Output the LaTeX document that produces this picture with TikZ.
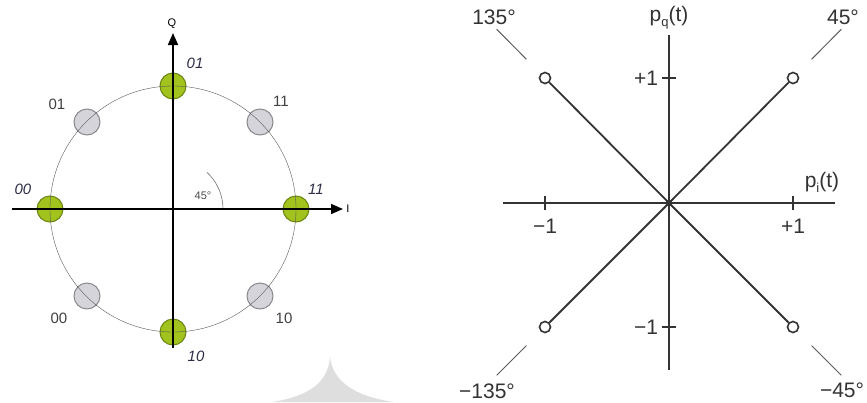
\documentclass[tikz,border=0pt]{standalone}
\usepackage{fontspec}
\setmainfont{Liberation Sans}
\usepackage{tikz}
\usetikzlibrary{
  arrows.meta,
  calc,
  positioning
}

\definecolor{qpskgreen}{HTML}{A2C21E}
\definecolor{qpskgreenline}{HTML}{6A8512}
\definecolor{qpskgray}{HTML}{D4D4DA}
\definecolor{qpskgrayline}{HTML}{8A8A8E}
\definecolor{bitnavy}{HTML}{2E2E48}
\definecolor{plotgray}{HTML}{333333}

\newcommand{\phasedraw}[1]{%
  \draw[vec] (org) -- (#1);
  \draw[leader] ($(org)!1.15!(#1)$) -- ($(org)!1.39!(#1)$);
}

\begin{document}
\begin{tikzpicture}[x=1pt, y=-1pt]

\tikzset{
  greendot/.style={
    circle,
    draw=qpskgreenline,
    fill=qpskgreen,
    line width=1pt,
    minimum size=26pt,
    inner sep=0pt
  },
  graydot/.style={
    circle,
    draw=qpskgrayline,
    fill=qpskgray,
    line width=1pt,
    minimum size=26pt,
    inner sep=0pt
  },
  bitlabel/.style={
    font=\fontsize{15}{15}\selectfont,
    text=black!75
  },
  bitlabelit/.style={
    font=\fontsize{15}{15}\selectfont\itshape,
    text=bitnavy
  },
  phasept/.style={
    circle,
    draw=plotgray,
    fill=white,
    line width=1.6pt,
    minimum size=11pt,
    inner sep=0pt
  },
  plotlabel/.style={
    font=\fontsize{21}{21}\selectfont,
    text=plotgray
  },
  vec/.style={draw=plotgray, line width=1.8pt},
  leader/.style={draw=plotgray!80, line width=1pt},
  >={Triangle[length=12pt, width=10pt]},
  line width=1pt
}

\useasboundingbox (0,0) rectangle (867,402);
\fill[white] (0,0) rectangle (867,402);

% faint background shape
\fill[black!13] (272,402) .. controls (310,396) and (328,382) .. (330,357)
  .. controls (333,382) and (355,396) .. (393,402) -- cycle;

% NODES (CONSTELLATION) ------------------------------------------

\coordinate (o) at (173,209);

% Nodes gray points
\node[graydot] (g01) at (87,122)  {};
\node[graydot] (g11) at (260,122) {};
\node[graydot] (g00) at (87,296)  {};
\node[graydot] (g10) at (260,296) {};

% Nodes green points
\node[greendot] (q01) at (173,86)  {};
\node[greendot] (q11) at (296,209) {};
\node[greendot] (q10) at (173,332) {};
\node[greendot] (q00) at (50,209)  {};

% Axis ends
\coordinate (qlow)  at (173,348);
\coordinate (qtop)  at (173,33);
\coordinate (ileft) at (12,209);
\coordinate (iright) at (343,209);

% Labels
\node[bitlabelit] (t01) at (195,63)  {01};
\node[bitlabelit] (t11) at (316,189) {11};
\node[bitlabelit] (t00) at (23,189)  {00};
\node[bitlabelit] (t10) at (196,356) {10};
\node[bitlabel] (s01) at (57,104)  {01};
\node[bitlabel] (s11) at (281,101) {11};
\node[bitlabel] (s00) at (59,318)  {00};
\node[bitlabel] (s10) at (284,318) {10};
\node[font=\fontsize{11}{11}\selectfont] (qlab) at (172,24) {Q};
\node[font=\fontsize{11}{11}\selectfont] (ilab) at (348,209) {I};
\node[font=\fontsize{11}{11}\selectfont, text=black!70] (ang) at (203,196) {45°};

% DRAWS (CONSTELLATION) ------------------------------------------

\draw[black!65] (o) circle[radius=123];
\draw[black!55, line width=0.6pt] ($(o)+(50,0)$) arc[start angle=0, end angle=-47, radius=50];
\draw[->, line width=1.6pt] (qlow) -- (qtop);
\draw[->, line width=1.6pt] (ileft) -- (iright);

% NODES (PHASOR) -------------------------------------------------

\coordinate (org) at (669,203);
\node[phasept] (p45)   at (793,78)  {};
\node[phasept] (p135)  at (545,78)  {};
\node[phasept] (pm135) at (545,327) {};
\node[phasept] (pm45)  at (793,327) {};

\coordinate (hleft)  at (503,203);
\coordinate (hright) at (835,203);
\coordinate (vtop)   at (669,35);
\coordinate (vlow)   at (669,370);

\node[plotlabel, anchor=east] (qp1) at (662,78)  {+1};
\node[plotlabel, anchor=east] (qm1) at (662,327) {−1};
\node[plotlabel] (im1) at (545,226) {−1};
\node[plotlabel] (ip1) at (793,226) {+1};
\node[plotlabel] (pq) at (669,18)
  {p\raisebox{-5pt}{\fontsize{13}{13}\selectfont q}(t)};
\node[plotlabel] (pi) at (822,182)
  {p\raisebox{-5pt}{\fontsize{13}{13}\selectfont i}(t)};

\node[plotlabel] (a135)  at (494,17)  {135°};
\node[plotlabel] (a45)   at (843,17)  {45°};
\node[plotlabel] (am135) at (487,391) {−135°};
\node[plotlabel] (am45)  at (842,390) {−45°};

% DRAWS (PHASOR) -------------------------------------------------

\draw[plotgray, line width=2.2pt] (hleft) -- (hright);
\draw[plotgray, line width=2.2pt] (vlow) -- (vtop);

% ticks
\draw[plotgray, line width=1.4pt] ($(im1)+(0,-30)$) -- ++(0,14);
\draw[plotgray, line width=1.4pt] ($(ip1)+(0,-30)$) -- ++(0,14);
\draw[plotgray, line width=1.4pt] ($(qp1.east)+(0,0)$) -- ++(14,0);
\draw[plotgray, line width=1.4pt] ($(qm1.east)+(0,0)$) -- ++(14,0);

\phasedraw{p45}
\phasedraw{p135}
\phasedraw{pm135}
\phasedraw{pm45}

\fill[plotgray] (org) circle[radius=3.5];

\end{tikzpicture}
\end{document}
